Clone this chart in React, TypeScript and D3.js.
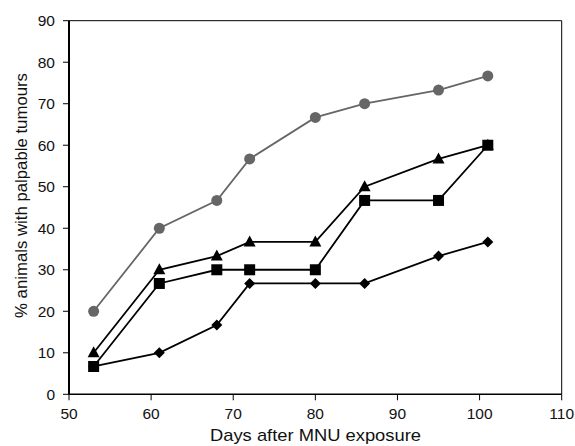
import React from "react";
import * as d3 from "d3";

const days = [53, 61, 68, 72, 80, 86, 95, 101];
const circleSeries = [20, 40, 46.7, 56.7, 66.7, 70, 73.3, 76.7];
const triangleSeries = [10, 30, 33.3, 36.7, 36.7, 50, 56.7, 60];
const squareSeries = [6.7, 26.7, 30, 30, 30, 46.7, 46.7, 60];
const diamondSeries = [6.7, 10, 16.7, 26.7, 26.7, 26.7, 33.3, 36.7];
const xTicks = [50, 60, 70, 80, 90, 100, 110];
const yTicks = [0, 10, 20, 30, 40, 50, 60, 70, 80, 90];

const W = 575, H = 446;
const L = 69, R = 561.7, T = 20.7, B = 394.3;

export default function App() {
  const x = d3.scaleLinear().domain([50, 110]).range([L, R]);
  const y = d3.scaleLinear().domain([0, 90]).range([B, T]);
  const line = d3.line<number>().x((_, i) => x(days[i])).y((v) => y(v));
  const font = "'Liberation Sans', Arial, sans-serif";

  const series = [
    { vals: diamondSeries, color: "#000", shape: "diamond" },
    { vals: squareSeries, color: "#000", shape: "square" },
    { vals: triangleSeries, color: "#000", shape: "triangle" },
    { vals: circleSeries, color: "#666", shape: "circle" },
  ];

  const marker = (shape: string, cx: number, cy: number, color: string, k: string) => {
    if (shape === "circle") return <circle key={k} cx={cx} cy={cy} r={5.5} fill={color} />;
    if (shape === "square") return <rect key={k} x={cx - 5.5} y={cy - 5.5} width={11} height={11} fill={color} />;
    if (shape === "triangle")
      return <path key={k} d={`M${cx},${cy - 6.5} L${cx + 6},${cy + 4.5} L${cx - 6},${cy + 4.5} Z`} fill={color} />;
    return <path key={k} d={`M${cx},${cy - 5.5} L${cx + 5.5},${cy} L${cx},${cy + 5.5} L${cx - 5.5},${cy} Z`} fill={color} />;
  };

  return (
    <svg width={W} height={H} style={{ position: "absolute", left: 0, top: 0, background: "#fff" }}>
      <line x1={L} x2={R} y1={T} y2={T} stroke="#000" strokeWidth={1} />
      <line x1={R} x2={R} y1={T} y2={B} stroke="#000" strokeWidth={1} />
      <line x1={L} x2={L} y1={T} y2={B} stroke="#000" strokeWidth={2} />
      <line x1={L} x2={R} y1={B} y2={B} stroke="#000" strokeWidth={1.5} />
      {yTicks.map((t) => (
        <g key={"y" + t}>
          <line x1={L - 6} x2={L} y1={y(t)} y2={y(t)} stroke="#000" strokeWidth={1} />
          <text x={L - 14} y={y(t)} dy="0.36em" textAnchor="end" fontSize={15.5} fontFamily={font} fill="#111">
            {t}
          </text>
        </g>
      ))}
      {xTicks.map((t) => (
        <g key={"x" + t}>
          <line x1={x(t)} x2={x(t)} y1={B} y2={B + 6} stroke="#000" strokeWidth={1} />
          <text x={x(t)} y={B + 24.5} textAnchor="middle" fontSize={15.5} fontFamily={font} fill="#111">
            {t}
          </text>
        </g>
      ))}
      <text
        x={315.5}
        y={441}
        textAnchor="middle"
        fontSize={17}
        fontFamily={font}
        fill="#111"
        textLength={211}
        lengthAdjust="spacingAndGlyphs"
      >
        Days after MNU exposure
      </text>
      <text
        transform={`translate(27,195.5) rotate(-90)`}
        textAnchor="middle"
        fontSize={17}
        fontFamily={font}
        fill="#111"
        textLength={245}
        lengthAdjust="spacingAndGlyphs"
      >
        % animals with palpable tumours
      </text>
      {series.map((s, si) => (
        <g key={"s" + si}>
          <path d={line(s.vals) || ""} fill="none" stroke={s.color} strokeWidth={1.8} />
          {s.vals.map((v, i) => marker(s.shape, x(days[i]), y(v), s.color, `m${si}-${i}`))}
        </g>
      ))}
    </svg>
  );
}
